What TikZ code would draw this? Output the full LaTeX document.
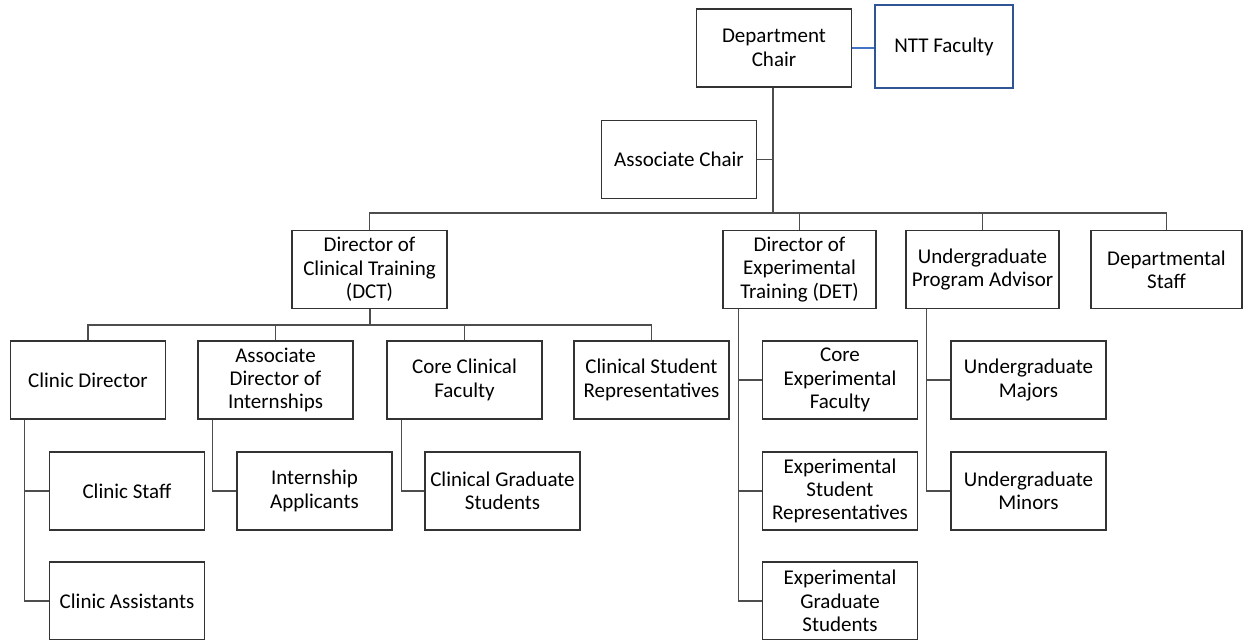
\documentclass[tikz,border=0pt]{standalone}
\usepackage{fontspec}
\setmainfont{Carlito}
\usepackage{tikz}
\usetikzlibrary{calc}
\definecolor{boxgray}{HTML}{333333}
\definecolor{linegray}{HTML}{4D4D4D}
\definecolor{nttblue}{HTML}{2F5597}
\definecolor{linkblue}{HTML}{4472C4}
\tikzset{
	orgbox/.style={draw=boxgray, line width=0.65pt, minimum width=77.5pt, minimum height=39pt, inner sep=1pt, align=center, font=\fontsize{10.5}{11.7}\selectfont},
	orgline/.style={draw=linegray, line width=0.6pt}
}

\begin{document}
\begin{tikzpicture}[x=0.5pt, y=-0.5pt]
				\useasboundingbox (0, 0) rectangle (1255, 640);
				
				\node[orgbox] (chair) at (774, 48) {Department\\Chair};
				\node[orgbox, draw=nttblue, minimum width=69pt, minimum height=41.5pt] (ntt) at (944, 46.5) {NTT Faculty};
				\node[orgbox] (assoc) at (679, 159.5) {Associate Chair};
				
				\node[orgbox] (dct) at (369.5, 269.5) {Director of\\Clinical Training\\(DCT)};
				\node[orgbox, minimum width=76.5pt] (det) at (799.5, 269.5) {Director of\\Experimental\\Training (DET)};
				\node[orgbox, minimum width=76.5pt] (upa) at (982.5, 269.5) {Undergraduate\\Program Advisor};
				\node[orgbox, minimum width=75.5pt] (dstaff) at (1166.5, 269.5) {Departmental\\Staff};
				
				\node[orgbox] (clinicdir) at (88, 380) {Clinic Director};
				\node[orgbox] (assocdir) at (275.5, 380) {Associate\\Director of\\Internships};
				\node[orgbox] (coreclin) at (464.5, 380) {Core Clinical\\Faculty};
				\node[orgbox] (clinrep) at (651.5, 380) {Clinical Student\\Representatives};
				
				\node[orgbox] (clinstaff) at (127, 491) {Clinic Staff};
				\node[orgbox] (clinassist) at (127, 601) {Clinic Assistants};
				\node[orgbox] (intapp) at (314.5, 491) {Internship\\Applicants};
				\node[orgbox] (clingrad) at (502.5, 491) {Clinical Graduate\\Students};
				
				\node[orgbox] (coreexp) at (840, 380) {Core\\Experimental\\Faculty};
				\node[orgbox] (exprep) at (840, 491) {Experimental\\Student\\Representatives};
				\node[orgbox] (expgrad) at (840, 601) {Experimental\\Graduate\\Students};
				\node[orgbox] (ugmaj) at (1028.5, 380) {Undergraduate\\Majors};
				\node[orgbox] (ugmin) at (1028.5, 491) {Undergraduate\\Minors};
				
				\coordinate (bus) at (773, 213);
				\coordinate (dctbus) at (370, 325);
				\coordinate (cdstem) at ([xshift=7.5pt]clinicdir.south west);
				\coordinate (adstem) at ([xshift=7.5pt]assocdir.south west);
				\coordinate (ccstem) at ([xshift=7.5pt]coreclin.south west);
				\coordinate (detstem) at ([xshift=8pt]det.south west);
				\coordinate (upastem) at ([xshift=10.5pt]upa.south west);
				
				\draw[linkblue, line width=0.6pt] (chair.east) -- (chair.east -| ntt.west);
				\draw[orgline] (chair.south -| bus) -- (bus);
				\draw[orgline] (assoc.east) -- (assoc.east -| bus);
				\draw[orgline] (dct.north) |- (bus) -| (dstaff.north);
				\draw[orgline] (det.north) -- (det.north |- bus);
				\draw[orgline] (upa.north) -- (upa.north |- bus);
				
				\draw[orgline] (dct.south -| dctbus) -- (dctbus);
				\draw[orgline] (clinicdir.north) |- (dctbus) -| (clinrep.north);
				\draw[orgline] (assocdir.north) -- (assocdir.north |- dctbus);
				\draw[orgline] (coreclin.north) -- (coreclin.north |- dctbus);
				
				\draw[orgline] (cdstem) |- (clinstaff.west);
				\draw[orgline] (cdstem) |- (clinassist.west);
				\draw[orgline] (adstem) |- (intapp.west);
				\draw[orgline] (ccstem) |- (clingrad.west);
				
				\draw[orgline] (detstem) |- (coreexp.west);
				\draw[orgline] (detstem) |- (exprep.west);
				\draw[orgline] (detstem) |- (expgrad.west);
				\draw[orgline] (upastem) |- (ugmaj.west);
				\draw[orgline] (upastem) |- (ugmin.west);
			\end{tikzpicture}
\end{document}
